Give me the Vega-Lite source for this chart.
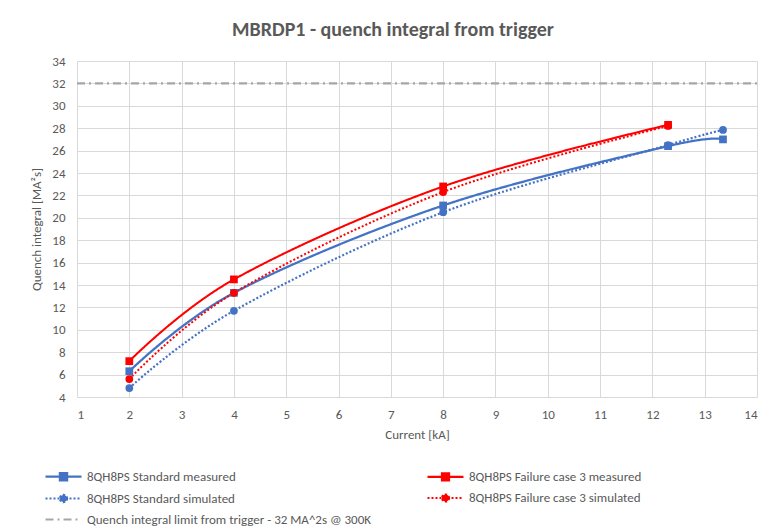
{
  "$schema": "https://vega.github.io/schema/vega-lite/v6.json",
  "autosize": "none",
  "width": 680,
  "height": 336,
  "padding": {"left": 77, "top": 61, "right": 13, "bottom": 134},
  "background": "white",
  "title": {
    "text": "MBRDP1 - quench integral from trigger",
    "frame": "bounds",
    "anchor": "middle",
    "fontSize": 20,
    "fontWeight": "bold",
    "color": "#595959",
    "font": "Carlito, Lato, sans-serif",
    "offset": 15,
    "dx": -3
  },
  "config": {
    "font": "Carlito, Lato, sans-serif",
    "view": {"stroke": null},
    "axis": {
      "labelColor": "#595959",
      "titleColor": "#595959",
      "labelFontSize": 13,
      "titleFontSize": 13,
      "titleFontWeight": "normal",
      "gridColor": "#d9d9d9",
      "gridWidth": 1,
      "ticks": false,
      "domain": false
    }
  },
  "data": {
    "values": [
      {"series": "8QH8PS Standard measured", "current": 2, "qi": 6.3},
      {"series": "8QH8PS Standard measured", "current": 4, "qi": 13.3},
      {"series": "8QH8PS Standard measured", "current": 8, "qi": 21.1},
      {"series": "8QH8PS Standard measured", "current": 12.3, "qi": 26.4},
      {"series": "8QH8PS Standard measured", "current": 13.35, "qi": 27.0},
      {"series": "8QH8PS Standard simulated", "current": 2, "qi": 4.8},
      {"series": "8QH8PS Standard simulated", "current": 4, "qi": 11.7},
      {"series": "8QH8PS Standard simulated", "current": 8, "qi": 20.5},
      {"series": "8QH8PS Standard simulated", "current": 12.3, "qi": 26.5},
      {"series": "8QH8PS Standard simulated", "current": 13.35, "qi": 27.85},
      {"series": "8QH8PS Failure case 3 measured", "current": 2, "qi": 7.2},
      {"series": "8QH8PS Failure case 3 measured", "current": 4, "qi": 14.5},
      {"series": "8QH8PS Failure case 3 measured", "current": 8, "qi": 22.8},
      {"series": "8QH8PS Failure case 3 measured", "current": 12.3, "qi": 28.3},
      {"series": "8QH8PS Failure case 3 simulated", "current": 2, "qi": 5.6},
      {"series": "8QH8PS Failure case 3 simulated", "current": 4, "qi": 13.3},
      {"series": "8QH8PS Failure case 3 simulated", "current": 8, "qi": 22.3},
      {"series": "8QH8PS Failure case 3 simulated", "current": 12.3, "qi": 28.2},
      {"series": "Quench integral limit from trigger - 32 MA^2s @ 300K", "current": 1, "qi": 32},
      {"series": "Quench integral limit from trigger - 32 MA^2s @ 300K", "current": 14, "qi": 32}
    ]
  },
  "encoding": {
    "x": {
      "field": "current", "type": "quantitative",
      "scale": {"domain": [1, 14], "nice": false, "zero": false},
      "axis": {"title": "Current [kA]", "values": [1,2,3,4,5,6,7,8,9,10,11,12,13,14], "labelPadding": 11, "titlePadding": 7}
    },
    "y": {
      "field": "qi", "type": "quantitative",
      "scale": {"domain": [4, 34], "nice": false, "zero": false},
      "axis": {"title": "Quench integral [MA²s]", "values": [4,6,8,10,12,14,16,18,20,22,24,26,28,30,32,34], "labelPadding": 12, "titlePadding": 8}
    },
    "color": {
      "field": "series", "type": "nominal",
      "scale": {
        "domain": ["8QH8PS Standard measured", "8QH8PS Standard simulated", "Quench integral limit from trigger - 32 MA^2s @ 300K", "8QH8PS Failure case 3 measured", "8QH8PS Failure case 3 simulated"],
        "range": ["#4472C4", "#4472C4", "#A6A6A6", "#FF0000", "#FF0000"]
      },
      "legend": {
        "title": null,
        "orient": "none",
        "legendX": -21,
        "legendY": 408,
        "columns": 2,
        "columnPadding": 51,
        "rowPadding": 5,
        "padding": 0,
        "symbolSize": 144,
        "labelOffset": 16,
        "labelFontSize": 13,
        "labelColor": "#595959",
        "labelLimit": 400,
        "encode": {
          "symbols": {
            "update": {
              "shape": {"signal": "indexof(datum.value, 'measured') >= 0 ? 'M-3,0H3M-0.6,-0.6H0.6V0.6H-0.6Z' : indexof(datum.value, 'simulated') >= 0 ? 'M-3,0H3M0.6,0A0.6,0.6,0,1,1,-0.6,0A0.6,0.6,0,1,1,0.6,0Z' : 'M-3,0H3'"},
              "stroke": {"signal": "scale('color', datum.value)"},
              "fill": {"signal": "scale('color', datum.value)"},
              "fillOpacity": {"value": 1},
              "strokeWidth": {"signal": "indexof(datum.value, 'limit') >= 0 ? 1.5 : 2"},
              "strokeDash": {"signal": "indexof(datum.value, 'simulated') >= 0 ? [2, 2] : indexof(datum.value, 'limit') >= 0 ? [7, 4, 2, 4] : [1, 0]"}
            }
          }
        }
      }
    }
  },
  "layer": [
    {
      "mark": {"type": "line", "interpolate": "cardinal", "strokeCap": "butt"},
      "encoding": {
        "strokeDash": {
          "field": "series", "type": "nominal",
          "scale": {
            "domain": ["8QH8PS Standard measured", "8QH8PS Standard simulated", "Quench integral limit from trigger - 32 MA^2s @ 300K", "8QH8PS Failure case 3 measured", "8QH8PS Failure case 3 simulated"],
            "range": [[1, 0], [2, 2], [8, 4, 2, 4], [1, 0], [2, 2]]
          },
          "legend": null
        },
        "strokeWidth": {
          "field": "series", "type": "nominal",
          "scale": {
            "domain": ["8QH8PS Standard measured", "8QH8PS Standard simulated", "Quench integral limit from trigger - 32 MA^2s @ 300K", "8QH8PS Failure case 3 measured", "8QH8PS Failure case 3 simulated"],
            "range": [2.25, 2, 1.5, 2.25, 2]
          },
          "legend": null
        }
      }
    },
    {
      "transform": [{"filter": "indexof(datum.series, 'limit') < 0"}],
      "mark": {"type": "point", "filled": true, "opacity": 1, "size": 60},
      "encoding": {
        "shape": {
          "field": "series", "type": "nominal",
          "scale": {
            "domain": ["8QH8PS Standard measured", "8QH8PS Standard simulated", "8QH8PS Failure case 3 measured", "8QH8PS Failure case 3 simulated"],
            "range": ["square", "circle", "square", "circle"]
          },
          "legend": null
        }
      }
    }
  ]
}
